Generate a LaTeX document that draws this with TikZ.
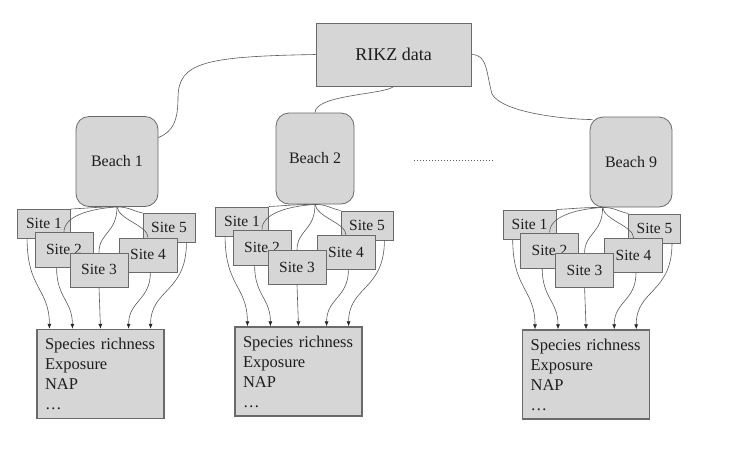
\documentclass[tikz,border=0pt]{standalone}
\usepackage{fontspec}
\setmainfont{Liberation Serif}
\usetikzlibrary{arrows.meta}

\definecolor{boxfill}{HTML}{D6D6D6}
\definecolor{boxline}{HTML}{6A6A6A}
\definecolor{linkgray}{HTML}{5A5A5A}
\definecolor{textgray}{HTML}{1E1E1E}

\tikzset{
  greybox/.style={draw=boxline, fill=boxfill, line width=0.8pt, text=textgray, inner sep=0pt},
  databox/.style={greybox, line width=1pt, minimum width=155pt, minimum height=63pt,
    font=\fontsize{18}{22}\selectfont},
  beachbox/.style={greybox, rounded corners=13pt, minimum width=82pt, minimum height=90pt,
    font=\fontsize{16}{20}\selectfont},
  sitebox/.style={greybox, minimum width=58pt, minimum height=34pt,
    font=\fontsize{15.5}{19}\selectfont},
  smallsite/.style={sitebox, minimum width=53pt, minimum height=29pt},
  varbox/.style={greybox, line width=1.2pt, minimum width=127pt, minimum height=89pt,
    text width=111pt, inner xsep=8pt, align=left, font=\fontsize{16.5}{20}\selectfont},
  link/.style={draw=linkgray, line width=0.6pt},
  arrowlink/.style={link, -{Latex[length=5pt,width=4pt,fill=black!85,color=black!85]}}
}

\begin{document}
\begin{tikzpicture}[x=1pt, y=-1pt]
  \useasboundingbox[fill=white] (0,0) rectangle (735,464);

  % top level
  \node[databox] (rikz) at (393.5,54.5) {RIKZ data};

  \node[beachbox] (b1) at (117,161.5) {Beach 1};
  \node[beachbox, minimum width=78pt, minimum height=91pt] (b2) at (315,158.5) {Beach 2};
  \node[beachbox] (b9) at (631,162) {Beach 9};

  \draw[dotted, linkgray, line width=1pt] (414,160) -- (494,160);

  \draw[link] (rikz.west) .. controls +(-110,2) and (178,62) .. (178,98)
    .. controls (178,122) and (172,132) .. (b1.30);
  \draw[link] (rikz.south) .. controls +(-8,8) and +(0,-18) .. (b2.north);
  \draw[link] (rikz.east) .. controls +(16,0) and (486,72) .. (492,94)
    .. controls (502,112) and (560,119) .. ([shift={(3,3)}]b9.north west);

  % where the site links leave each beach
  \coordinate (h1) at (b1.south);
  \coordinate (h2) at (b2.south);
  \coordinate (h9) at ([xshift=13pt]b9.south west);

  \foreach \g in {1,2,9} {
    \begin{scope}[shift={(h\g)}]
      \node[smallsite] (s\g-1) at (-73,17) {Site 1};
      \node[smallsite, minimum width=52pt] (s\g-5) at (52,21) {Site 5};
      \node[sitebox, minimum height=35pt] (s\g-2) at (-53,43) {Site 2};
      \node[sitebox] (s\g-4) at (31,48) {Site 4};
      \node[sitebox] (s\g-3) at (-18,63) {Site 3};
      \node[varbox] (v\g) at (-16.5,167) {Species richness\\ Exposure\\ NAP\\ \dots};
    \end{scope}

    % beach to sites
    \draw[link] (h\g) .. controls +(-20,0) and +(20,-1) .. (s\g-1.north east);
    \draw[link] (h\g) .. controls +(12,0) and +(-10,-2) .. (s\g-5.north west);
    \draw[link] (h\g) .. controls +(-30,2) and +(0,-15) .. (s\g-2.north);
    \draw[link] (h\g) .. controls +(0,26) and +(0,-20) .. (s\g-3.north);
    \draw[link] (h\g) .. controls +(2,13) and +(0,-12) .. (s\g-4.north);

    % sites to the variables
    \draw[arrowlink] ([xshift=10pt]s\g-1.south west) .. controls +(0,50) and +(0,-40) .. ([xshift=13pt]v\g.north west);
    \draw[arrowlink] ([xshift=22pt]s\g-2.south west) .. controls +(0,30) and +(0,-28) .. ([xshift=36pt]v\g.north west);
    \draw[arrowlink] (s\g-3.south) -- (v\g.north);
    \draw[arrowlink] ([xshift=-27pt]s\g-4.south east) .. controls +(0,28) and +(0,-28) .. ([xshift=-36pt]v\g.north east);
    \draw[arrowlink] ([xshift=-9pt]s\g-5.south east) .. controls +(0,50) and +(0,-40) .. ([xshift=-14pt]v\g.north east);
  }
\end{tikzpicture}
\end{document}
